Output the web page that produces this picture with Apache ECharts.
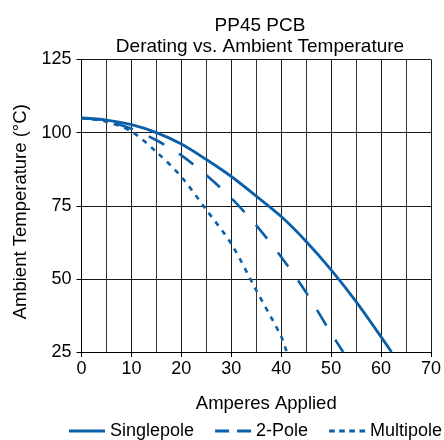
<!DOCTYPE html>
<html>
<head>
<meta charset="utf-8">
<script src="https://cdn.jsdelivr.net/npm/echarts@6/dist/echarts.min.js"></script>
<style>
html,body{margin:0;padding:0;background:#fff;}
#chart{width:444px;height:440px;}
</style>
</head>
<body>
<div id="chart"></div>
<script>
var titleText = 'PP45 PCB\nDerating vs. Ambient Temperature';
var xAxisName = 'Amperes Applied';
var yAxisName = 'Ambient Temperature (°C)';
var seriesNames = ['Singlepole', '2-Pole', 'Multipole'];

var singleAmps = [0, 5, 10, 15, 20, 25, 30, 35, 40, 45, 50, 55, 62.1];
var singleTemps = [105, 104.3, 102.7, 100, 96.1, 90.8, 85.0, 78.3, 71.3, 62.8, 53.1, 42.2, 25];

var twoAmps = [0, 5, 10, 15, 20, 25, 30, 35, 40, 45, 50, 52.4];
var twoTemps = [105, 104, 101.3, 97.4, 92.2, 85.5, 77.6, 68.3, 57.5, 45.3, 31.4, 25];

var multiAmps = [0, 5, 10, 15, 20, 25, 30, 35, 40, 41.1];
var multiTemps = [105, 103.7, 100.4, 93.4, 84.9, 73.6, 62, 46.1, 30.3, 25];

function pairs(a, b) { return a.map(function (v, i) { return [v, b[i]]; }); }

var color = '#0a5fa8';
var font = 'Liberation Sans, Arial, sans-serif';
var iconSolid = 'path://M0,0H36V3H0Z';
var iconDash = 'path://M0,0H14V3H0Z M22,0H36V3H22Z';
var iconDot = 'path://M0,0H5.6V3H0Z M10.1,0H15.7V3H10.1Z M20.2,0H25.8V3H20.2Z M30.4,0H36V3H30.4Z';

var chart = echarts.init(document.getElementById('chart'));
chart.setOption({
  animation: false,
  backgroundColor: '#fff',
  title: {
    text: titleText, top: 10, left: 255, textAlign: 'center',
    textStyle: { fontFamily: font, fontSize: 19, fontWeight: 'normal', color: '#000', lineHeight: 21 }
  },
  legend: {
    top: 422, left: 69, width: 380, padding: 0,
    itemWidth: 36, itemHeight: 3, itemGap: 21,
    textStyle: { fontFamily: font, fontSize: 18, color: '#000' },
    itemStyle: { borderWidth: 0 },
    symbolKeepAspect: false,
    data: [
      { name: seriesNames[0], icon: iconSolid },
      { name: seriesNames[1], icon: iconDash },
      { name: seriesNames[2], icon: iconDot }
    ]
  },
  grid: { left: 81.5, right: 7, top: 59.5, bottom: 88, containLabel: false },
  xAxis: {
    type: 'value', min: 0, max: 70, interval: 10,
    name: xAxisName, nameLocation: 'middle', nameGap: 42,
    nameTextStyle: { fontFamily: font, fontSize: 18.5, color: '#000', padding: [0, 0, 0, 20] },
    axisLine: { show: true, lineStyle: { color: '#000', width: 1 } },
    axisTick: { show: true, length: 5, lineStyle: { color: '#000' } },
    axisLabel: { fontFamily: font, fontSize: 18, color: '#000', margin: 8 },
    splitLine: { show: true, lineStyle: { color: '#1a1a1a', width: 1 } },
    minorTick: { show: false, splitNumber: 2 },
    minorSplitLine: { show: true, lineStyle: { color: '#333', width: 1 } }
  },
  yAxis: {
    type: 'value', min: 25, max: 125, interval: 25,
    name: yAxisName, nameLocation: 'middle', nameGap: 51, nameRotate: 90,
    nameTextStyle: { fontFamily: font, fontSize: 18.5, color: '#000', padding: [0, 12, 0, 0] },
    axisLine: { show: true, lineStyle: { color: '#000', width: 1 } },
    axisTick: { show: true, length: 5, lineStyle: { color: '#000' } },
    axisLabel: { fontFamily: font, fontSize: 18, color: '#000', margin: 10 },
    splitLine: { show: true, lineStyle: { color: '#1a1a1a', width: 1 } }
  },
  series: [
    { name: seriesNames[0], type: 'line', data: pairs(singleAmps, singleTemps), smooth: 0.3, symbol: 'none',
      lineStyle: { color: color, width: 2.8, type: 'solid' }, itemStyle: { color: color } },
    { name: seriesNames[1], type: 'line', data: pairs(twoAmps, twoTemps), smooth: 0.3, symbol: 'none',
      lineStyle: { color: color, width: 2.6, type: [18, 17] }, itemStyle: { color: color } },
    { name: seriesNames[2], type: 'line', data: pairs(multiAmps, multiTemps), smooth: 0.3, symbol: 'none',
      lineStyle: { color: color, width: 2.6, type: [5, 6] }, itemStyle: { color: color } }
  ]
});
</script>
</body>
</html>
